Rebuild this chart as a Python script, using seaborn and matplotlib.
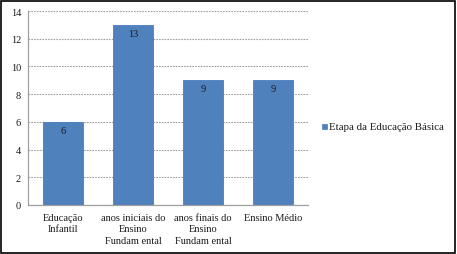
import numpy as np
import pandas as pd
import matplotlib.pyplot as plt
import seaborn as sns
from matplotlib.patches import Rectangle

categorias = ['Educação\nInfantil', 'anos iniciais do\nEnsino\nFundam ental',
              'anos finais do\nEnsino\nFundam ental', 'Ensino Médio']
valores = [6, 13, 9, 9]
serie = 'Etapa da Educação Básica'

df = pd.DataFrame({'categoria': categorias, 'valor': valores, 'serie': serie})

sns.set_style('white')
plt.rcParams['font.family'] = ['Liberation Serif', 'DejaVu Serif']

fig = plt.figure(figsize=(4.57, 2.55), dpi=100)
ax = fig.add_axes([28 / 457, 49 / 255, 280 / 457, 194 / 255])

sns.barplot(data=df, x='categoria', y='valor', hue='serie', palette=['#4f81bd'],
            saturation=1, width=0.58, ax=ax, legend=False,
            edgecolor='#4a7cc0', linewidth=0.6)

for i, v in enumerate(valores):
    ax.text(i, v - 0.3, str(v), ha='center', va='top', fontsize=7.5, color='#1a1a1a')

ax.set_ylim(0, 14)
ax.set_yticks(range(0, 15, 2))
ax.set_xlim(-0.5, 3.5)
ax.yaxis.grid(True, color='#a0a0a0', linestyle=(0, (1.5, 1)), linewidth=0.8)
ax.set_axisbelow(True)
for s in ['top', 'right']:
    ax.spines[s].set_visible(False)
for s in ['left', 'bottom']:
    ax.spines[s].set_color('#a0a0a0')
    ax.spines[s].set_linewidth(0.9)
ax.tick_params(axis='y', labelsize=7.5, length=0, pad=5, colors='#1a1a1a')
ax.tick_params(axis='x', labelsize=7.5, length=0, pad=6, colors='#1a1a1a')
ax.set_xlabel('')
ax.set_ylabel('')
ax.set_xticklabels(categorias, linespacing=1.3)

# legenda
fig.patches.append(Rectangle((322 / 457, 1 - 130 / 255), 5 / 457, 5 / 255,
                             transform=fig.transFigure, facecolor='#4f81bd',
                             edgecolor='#4a7cc0', linewidth=0.5))
fig.text(329 / 457, 1 - 127.5 / 255, serie, fontsize=7.8, va='center', ha='left', color='#1a1a1a')

# borda externa
fig.patches.append(Rectangle((1 / 457, 1 / 255), 454 / 457, 252 / 255,
                             transform=fig.transFigure, facecolor='none',
                             edgecolor='black', linewidth=1.2))

fig.savefig('out.png', dpi=100)
